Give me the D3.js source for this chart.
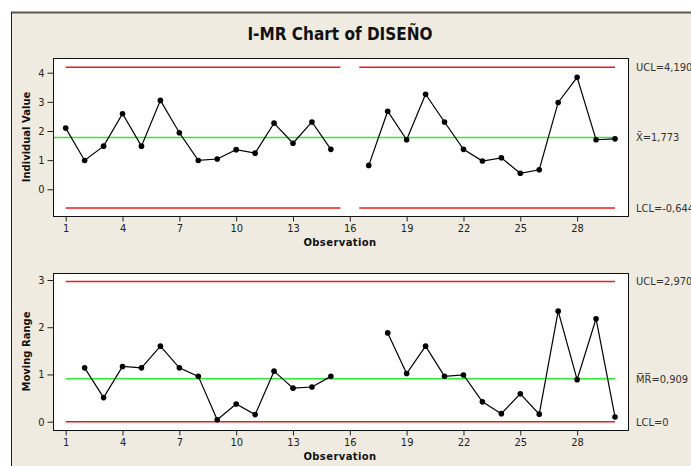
<!DOCTYPE html>
<html>
<head>
<meta charset="utf-8">
<script src="https://cdn.jsdelivr.net/npm/d3@7"></script>
<style>
  body { margin: 0; background: #fff; }
  svg { display: block; }
</style>
</head>
<body>
<svg id="chart"></svg>
<script>
// I-MR chart of DISEÑO

const observations = d3.range(1, 31);

// Individual values (obs 16 is missing)
const individual = [2.10, 0.99, 1.48, 2.59, 1.48, 3.05, 1.94, 0.99, 1.04, 1.36,
  1.24, 2.27, 1.58, 2.31, 1.37, null, 0.82, 2.68, 1.70, 3.26,
  2.31, 1.37, 0.97, 1.08, 0.55, 0.67, 2.98, 3.84, 1.70, 1.73];

// Moving ranges
const movingRange = [null, 1.14, 0.51, 1.17, 1.14, 1.60, 1.14, 0.96, 0.04, 0.375,
  0.15, 1.07, 0.71, 0.735, 0.96, null, null, 1.88, 1.02, 1.60,
  0.96, 0.99, 0.42, 0.17, 0.59, 0.16, 2.34, 0.89, 2.18, 0.10];

// Control limits: [UCL, center, LCL]
const iLimits = [4.190, 1.773, -0.644];
const mrLimits = [2.970, 0.909, 0];
const iLimitLabels = ['UCL=4,190', 'X\u0304=1,773', 'LCL=-0,644'];
const mrLimitLabels = ['UCL=2,970', 'M\u0305R\u0305=0,909', 'LCL=0'];

const xTicks = [1, 4, 7, 10, 13, 16, 19, 22, 25, 28];
const iTicks = [0, 1, 2, 3, 4];
const mrTicks = [0, 1, 2, 3];

const width = 691;
const height = 466;
const font = '"DejaVu Sans Condensed", "DejaVu Sans", sans-serif';

const svg = d3.select('#chart')
  .attr('width', width)
  .attr('height', height);

// background frame
svg.append('rect')
  .attr('x', 11).attr('y', 12)
  .attr('width', width).attr('height', height)
  .attr('fill', '#efebe1');
svg.append('line')
  .attr('x1', 11).attr('x2', width).attr('y1', 12.5).attr('y2', 12.5)
  .attr('stroke', '#5a5a55').attr('stroke-width', 2);
svg.append('line')
  .attr('x1', 11.5).attr('x2', 11.5).attr('y1', 12).attr('y2', height)
  .attr('stroke', '#222').attr('stroke-width', 1);

svg.append('text')
  .attr('x', 340).attr('y', 40)
  .attr('text-anchor', 'middle')
  .style('font-family', font)
  .style('font-weight', 'bold')
  .style('font-size', '17px')
  .attr('fill', '#111')
  .text('I-MR Chart of DISEÑO');

const x = d3.scaleLinear().domain([1, 30]).range([65.7, 615]);

function drawPanel(opts) {
  const { top, bottom, y, values, limits, labels, ticks, yLabel, greenFromEdge, gapRed } = opts;
  const left = 53, right = 628;
  const g = svg.append('g');

  g.append('rect')
    .attr('x', left + 0.5).attr('y', top + 0.5)
    .attr('width', right - left).attr('height', bottom - top)
    .attr('fill', '#fff')
    .attr('stroke', '#111');

  // limit lines
  const redSegs = gapRed ? [[1, 15.5], [16.5, 30]] : [[1, 30]];
  [limits[0], limits[2]].forEach(v => {
    redSegs.forEach(s => {
      g.append('line')
        .attr('x1', x(s[0])).attr('x2', x(s[1]))
        .attr('y1', y(v)).attr('y2', y(v))
        .attr('stroke', '#f0181c').attr('stroke-width', 1.5);
    });
  });
  g.append('line')
    .attr('x1', greenFromEdge ? left + 1 : x(1)).attr('x2', x(30))
    .attr('y1', y(limits[1])).attr('y2', y(limits[1]))
    .attr('stroke', '#33e833').attr('stroke-width', 1.5);

  const pts = observations.map((o, i) => ({ o, v: values[i] }));
  const line = d3.line()
    .defined(d => d.v != null)
    .x(d => x(d.o))
    .y(d => y(d.v));

  g.append('path')
    .datum(pts)
    .attr('fill', 'none')
    .attr('stroke', '#000')
    .attr('stroke-width', 1.2)
    .attr('d', line);

  g.selectAll('circle')
    .data(pts.filter(d => d.v != null))
    .enter().append('circle')
    .attr('cx', d => x(d.o))
    .attr('cy', d => y(d.v))
    .attr('r', 2.8)
    .attr('fill', '#000');

  // axes
  const xAxis = g.append('g')
    .attr('transform', `translate(0,${bottom + 0.5})`)
    .call(d3.axisBottom(x).tickValues(xTicks).tickSize(5).tickPadding(3));
  const yAxis = g.append('g')
    .attr('transform', `translate(${left + 0.5},0)`)
    .call(d3.axisLeft(y).tickValues(ticks).tickFormat(d3.format('d')).tickSize(6).tickPadding(3));
  [xAxis, yAxis].forEach(a => {
    a.select('.domain').remove();
    a.selectAll('line').attr('stroke', '#222');
    a.selectAll('text')
      .style('font-family', font)
      .style('font-size', '11px')
      .attr('fill', '#222');
  });

  g.append('text')
    .attr('x', 340).attr('y', bottom + 30)
    .attr('text-anchor', 'middle')
    .style('font-family', '"DejaVu Sans", sans-serif')
    .style('font-weight', 'bold')
    .style('font-size', '10px')
    .style('letter-spacing', '0.4px')
    .attr('fill', '#111')
    .text('Observation');

  g.append('text')
    .attr('transform', `translate(30,${(top + bottom) / 2}) rotate(-90)`)
    .attr('text-anchor', 'middle')
    .style('font-family', '"DejaVu Sans", sans-serif')
    .style('font-weight', 'bold')
    .style('font-size', '10px')
    .attr('fill', '#111')
    .text(yLabel);

  limits.forEach((v, i) => {
    g.append('text')
      .attr('x', 636).attr('y', y(v))
      .attr('dy', '0.35em')
      .style('font-family', font)
      .style('font-size', '11px')
      .attr('fill', '#333')
      .text(labels[i]);
  });
}

drawPanel({
  top: 58, bottom: 216,
  y: d3.scaleLinear().domain([0, 4]).range([189.3, 72.7]),
  values: individual,
  limits: iLimits,
  labels: iLimitLabels,
  ticks: iTicks,
  yLabel: 'Individual Value',
  greenFromEdge: true,
  gapRed: true
});

drawPanel({
  top: 273, bottom: 430,
  y: d3.scaleLinear().domain([0, 3]).range([421.7, 280]),
  values: movingRange,
  limits: mrLimits,
  labels: mrLimitLabels,
  ticks: mrTicks,
  yLabel: 'Moving Range',
  greenFromEdge: false,
  gapRed: false
});
</script>
</body>
</html>
